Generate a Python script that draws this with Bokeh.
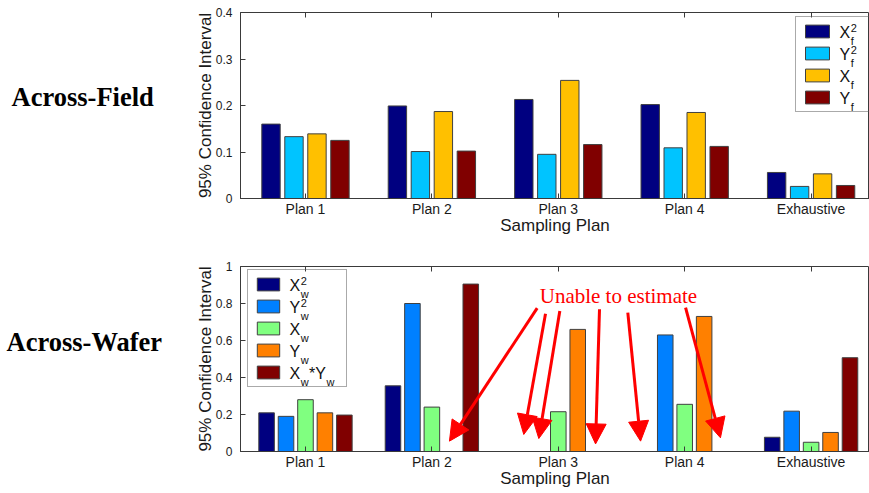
import math
from bokeh.plotting import figure
from bokeh.layouts import gridplot
from bokeh.models import (Range1d, FixedTicker, LinearAxis, Legend, LegendItem,
                          Label, Arrow, NormalHead, ColumnDataSource)
from bokeh.embed import file_html
from bokeh.resources import INLINE

nan = float("nan")

# ---- data -------------------------------------------------------------
plans = ["Plan 1", "Plan 2", "Plan 3", "Plan 4", "Exhaustive"]

# across-field components (95% confidence interval)
field_xf2 = [0.160, 0.199, 0.213, 0.202, 0.056]
field_yf2 = [0.133, 0.101, 0.095, 0.109, 0.026]
field_xf = [0.139, 0.187, 0.254, 0.185, 0.053]
field_yf = [0.125, 0.102, 0.116, 0.112, 0.028]
field_colors = ["#000080", "#00C4FF", "#FFC000", "#800000"]

# across-wafer components (NaN = could not be estimated)
wafer_xw2 = [0.209, 0.355, nan, nan, 0.077]
wafer_yw2 = [0.190, 0.800, nan, 0.630, 0.218]
wafer_xw = [0.280, 0.240, 0.215, 0.255, 0.050]
wafer_yw = [0.209, nan, 0.660, 0.730, 0.103]
wafer_xwyw = [0.197, 0.905, nan, nan, 0.507]
wafer_colors = ["#000080", "#0080FF", "#80FF80", "#FF8000", "#800000"]

top_ticks = [0, 0.1, 0.2, 0.3, 0.4]
top_tick_labels = ["0", "0.1", "0.2", "0.3", "0.4"]
bottom_ticks = [0, 0.2, 0.4, 0.6, 0.8, 1.0]
bottom_tick_labels = ["0", "0.2", "0.4", "0.6", "0.8", "1"]

panel_titles = ["Across-Field", "Across-Wafer"]

# legend entries as (text, role) pieces: role m = main, sub / sup = scripts
field_legend = [
    [("X", "m"), ("f", "sub"), ("2", "sup")],
    [("Y", "m"), ("f", "sub"), ("2", "sup")],
    [("X", "m"), ("f", "sub")],
    [("Y", "m"), ("f", "sub")],
]
wafer_legend = [
    [("X", "m"), ("w", "sub"), ("2", "sup")],
    [("Y", "m"), ("w", "sub"), ("2", "sup")],
    [("X", "m"), ("w", "sub")],
    [("Y", "m"), ("w", "sub")],
    [("X", "m"), ("w", "sub"), ("*", "m"), ("Y", "m"), ("w", "sub")],
]

# annotation arrows (start near the note, tip at the missing bar)
note_text = "Unable to estimate"
arrow_x0 = [2.833, 2.899, 3.012, 3.326, 3.550, 4.007]
arrow_y0 = [0.775, 0.745, 0.760, 0.769, 0.751, 0.778]
arrow_x1 = [2.139, 2.727, 2.846, 3.295, 3.651, 4.283]
arrow_y1 = [0.056, 0.092, 0.070, 0.041, 0.056, 0.074]

# ---- styling ----------------------------------------------------------
SANS = "Liberation Sans"
SERIF = "Liberation Serif"
AXIS_COLOR = "#3a3a3a"
EDGE = "#404040"
X_START, X_END = 0.486, 5.462
FRAME_W = 629
SIDE_W = 190

# rough Arial advance widths (em) for legend text layout
EM = {"X": 0.667, "Y": 0.667, "*": 0.389, "2": 0.556, "f": 0.278, "w": 0.722}
MAIN_PX, SCRIPT_PX = 16, 11


def make_fig(y_end, ticks, tick_labels, min_top, frame_h, min_bottom):
    p = figure(frame_width=FRAME_W, frame_height=frame_h,
               min_border_left=240 - SIDE_W, min_border_right=0,
               min_border_top=min_top, min_border_bottom=min_bottom,
               x_range=Range1d(X_START, X_END), y_range=Range1d(0, y_end),
               output_backend="svg", toolbar_location=None,
               x_axis_label="Sampling Plan",
               y_axis_label="95% Confidence Interval")
    p.grid.visible = False
    p.outline_line_color = AXIS_COLOR
    p.outline_line_width = 1
    p.background_fill_color = "white"
    p.border_fill_color = "white"

    xa = p.xaxis[0]
    xa.ticker = FixedTicker(ticks=list(range(1, len(plans) + 1)))
    xa.major_label_overrides = {i + 1: name for i, name in enumerate(plans)}
    xa.major_label_text_font = SANS
    xa.major_label_text_font_size = "14px"
    xa.major_label_standoff = 2
    xa.axis_label_standoff = -4
    xa.axis_label_text_font = SANS
    xa.axis_label_text_font_size = "17px"
    xa.axis_label_text_font_style = "normal"

    ya = p.yaxis[0]
    ya.ticker = FixedTicker(ticks=ticks)
    ya.major_label_overrides = {t: s for t, s in zip(ticks, tick_labels)}
    ya.major_label_text_font = SANS
    ya.major_label_text_font_size = "12px"
    ya.major_label_standoff = 8
    ya.axis_label_standoff = -2
    ya.axis_label_text_font = SANS
    ya.axis_label_text_font_size = "17px"
    ya.axis_label_text_font_style = "normal"

    for ax in (xa, ya):
        ax.axis_line_color = AXIS_COLOR
        ax.major_tick_line_color = AXIS_COLOR
        ax.major_tick_in = 5
        ax.major_tick_out = 0
        ax.minor_tick_line_color = None
        ax.major_label_text_color = "#1a1a1a"
        ax.axis_label_text_color = "#1a1a1a"

    # mirrored tick marks along the top edge
    top_ax = LinearAxis(ticker=FixedTicker(ticks=list(range(1, len(plans) + 1))),
                        major_tick_in=5, major_tick_out=0,
                        major_tick_line_color=AXIS_COLOR,
                        minor_tick_line_color=None, axis_line_color=None,
                        major_label_text_color=None)
    p.add_layout(top_ax, "above")
    return p


def side_fig(height, title, x, y):
    """Narrow blank panel (pixel coordinates) holding a row title."""
    s = figure(width=SIDE_W, height=height, x_range=Range1d(0, SIDE_W),
               y_range=Range1d(0, height), min_border=0,
               output_backend="svg", toolbar_location=None)
    s.axis.visible = False
    s.grid.visible = False
    s.outline_line_color = None
    s.add_layout(Label(x=x, y=y, text=title, text_font=SERIF,
                       text_font_style="bold", text_font_size="26.5px",
                       text_baseline="alphabetic", text_color="black"))
    return s


def to_data(p, sx, sy):
    """Frame-relative pixel offset (from bottom-left) -> data coordinates."""
    xr, yr = p.x_range, p.y_range
    x = xr.start + sx * (xr.end - xr.start) / p.frame_width
    y = yr.start + sy * (yr.end - yr.start) / p.frame_height
    return x, y


def add_bars(p, series, colors):
    n = len(series)
    group = min(0.8, n / (n + 1.5))
    slot = group / n
    renderers = []
    for i, (vals, col) in enumerate(zip(series, colors)):
        off = -group / 2 + (i + 0.5) * slot
        src = ColumnDataSource(dict(x=[k + 1 + off for k in range(len(vals))],
                                    top=vals))
        r = p.vbar(x="x", top="top", bottom=0, width=slot * 0.8, source=src,
                   fill_color=col, line_color=EDGE, line_width=1)
        renderers.append(r)
    return renderers


def add_legend(p, renderers, pieces, vx, vy, pad, gw, gh, spacing, standoff, lw):
    items = [LegendItem(label=" ", renderers=[r]) for r in renderers]
    leg = Legend(items=items, location=(vx, vy), padding=pad, spacing=spacing,
                 glyph_width=gw, glyph_height=gh, label_standoff=standoff,
                 label_width=lw, label_height=gh, label_text_font_size="1px",
                 label_text_color=None, margin=0,
                 border_line_color="#555555", border_line_width=1,
                 background_fill_alpha=0)
    p.add_layout(leg)
    n = len(items)
    height = 2 * pad + n * gh + (n - 1) * spacing
    top = vy + height
    x0 = vx + pad + gw + standoff
    for i, row in enumerate(pieces):
        yc = top - pad - gh / 2 - i * (gh + spacing)
        x = x0
        script_w = 0
        for txt, role in row:
            if role == "m":
                x += script_w
                script_w = 0
                dx, dy = to_data(p, x, yc)
                p.add_layout(Label(x=dx, y=dy, text=txt, text_font=SANS,
                                   text_font_size=f"{MAIN_PX}px",
                                   text_baseline="middle", text_align="left",
                                   text_color="#111111"))
                x += EM[txt] * MAIN_PX
            else:
                off = 5 if role == "sup" else -8
                dx, dy = to_data(p, x + 0.5, yc + off)
                p.add_layout(Label(x=dx, y=dy, text=txt, text_font=SANS,
                                   text_font_size=f"{SCRIPT_PX}px",
                                   text_baseline="middle", text_align="left",
                                   text_color="#111111"))
                script_w = max(script_w, EM[txt] * SCRIPT_PX + 1)


# ---- across-field panel ----------------------------------------------
p1 = make_fig(0.4, top_ticks, top_tick_labels, 12, 186, 52)
r1 = add_bars(p1, [field_xf2, field_yf2, field_xf, field_yf], field_colors)
add_legend(p1, r1, field_legend, vx=555, vy=86, pad=6, gw=30, gh=16,
           spacing=6, standoff=8, lw=30)
s1 = side_fig(250, panel_titles[0], 11, 136)

# ---- across-wafer panel ----------------------------------------------
p2 = make_fig(1.0, bottom_ticks, bottom_tick_labels, 16, 185, 42)
r2 = add_bars(p2, [wafer_xw2, wafer_yw2, wafer_xw, wafer_yw, wafer_xwyw],
              wafer_colors)
add_legend(p2, r2, wafer_legend, vx=7, vy=64, pad=6, gw=28, gh=16,
           spacing=6, standoff=8, lw=50)
s2 = side_fig(243, panel_titles[1], 6, 143.5)

p2.add_layout(Label(x=3.476, y=0.839, text=note_text, text_font=SERIF,
                    text_font_size="21px", text_color="#FF0000",
                    text_align="center", text_baseline="alphabetic"))
arrow_src = ColumnDataSource(dict(x0=arrow_x0, y0=arrow_y0,
                                  x1=arrow_x1, y1=arrow_y1))
p2.add_layout(Arrow(x_start="x0", y_start="y0", x_end="x1", y_end="y1",
                    source=arrow_src, line_color="#FF0000", line_width=3,
                    end=NormalHead(size=20, fill_color="#FF0000",
                                   line_color="#FF0000", line_width=1)))

layout = gridplot([[s1, p1], [s2, p2]], toolbar_location=None)
open("out.html", "w").write(file_html(layout, INLINE))
